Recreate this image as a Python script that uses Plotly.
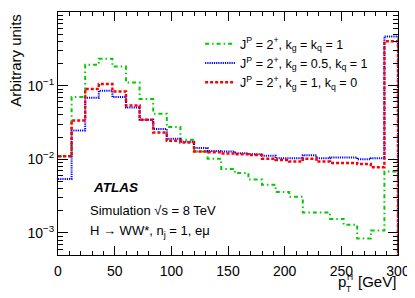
import plotly.graph_objects as go

bin_edges = [0, 12, 24, 36, 48, 60, 72, 84, 96, 108, 120, 132, 144, 156, 168,
             180, 192, 204, 216, 228, 240, 252, 264, 276, 288, 300]

green_vals = [0.011, 0.070, 0.192, 0.232, 0.182, 0.110, 0.0657, 0.0415, 0.0274, 0.0184,
              0.0128, 0.0102, 0.0074, 0.0065, 0.0053, 0.0045, 0.0036, 0.0031, 0.0019, 0.0019,
              0.00155, 0.00129, 0.00084, 0.00108, 0.0068]
blue_vals = [0.0054, 0.0246, 0.0685, 0.085, 0.070, 0.0506, 0.0344, 0.0257, 0.019, 0.0173,
             0.0142, 0.013, 0.0128, 0.0121, 0.0117, 0.0112, 0.0103, 0.0103, 0.0113, 0.0103,
             0.0106, 0.0106, 0.0100, 0.0103, 0.466]
red_vals = [0.011, 0.0337, 0.090, 0.105, 0.0835, 0.0538, 0.0344, 0.0231, 0.0178, 0.0169,
            0.0128, 0.0125, 0.012, 0.0117, 0.0114, 0.0102, 0.0098, 0.0093, 0.0102, 0.0093,
            0.0089, 0.0089, 0.0086, 0.0078, 0.40]

labels = ["J<sup>P</sup> = 2<sup>+</sup>, k<sub>g</sub> = k<sub>q</sub> = 1",
          "J<sup>P</sup> = 2<sup>+</sup>, k<sub>g</sub> = 0.5, k<sub>q</sub> = 1",
          "J<sup>P</sup> = 2<sup>+</sup>, k<sub>g</sub> = 1, k<sub>q</sub> = 0"]

y_log_range = [-3.3, 0]
floor = 10 ** (y_log_range[0] - 0.2)

styles = [dict(color="#00cc00", width=2, dash="4px,3px,1.5px,3px"),
          dict(color="#0000ff", width=2, dash="1.2px,1px"),
          dict(color="#ff0000", width=2.5, dash="3px,2px")]

fig = go.Figure()
for vals, lab, st in zip([green_vals, blue_vals, red_vals], labels, styles):
    xs = list(bin_edges) + [bin_edges[-1]]
    ys = list(vals) + [vals[-1], floor]
    fig.add_trace(go.Scatter(x=xs, y=ys, mode="lines", line_shape="hv",
                             line=st, name=lab, cliponaxis=True))

font = "Liberation Sans, Arial, Helvetica, sans-serif"
major_y = [1e-3, 1e-2, 1e-1, 1]
major_y_text = ["10<sup>\u22123</sup>", "10<sup>\u22122</sup>", "10<sup>\u22121</sup>", "1"]
minor_y = [m * 10.0 ** e for e in [-4, -3, -2, -1] for m in range(2, 10) if m * 10.0 ** e >= 10 ** y_log_range[0]]

# page body has an 8px margin, so the figure is 8px smaller and margins compensate
fig.update_layout(
    width=407, height=290,
    margin=dict(l=50, r=17, t=4, b=43, autoexpand=False),
    paper_bgcolor="white", plot_bgcolor="white",
    font=dict(family=font, color="black", size=14),
    showlegend=True,
    legend=dict(x=0.418, y=0.93, xanchor="left", yanchor="top",
                bgcolor="rgba(0,0,0,0)", font=dict(size=12.5), tracegroupgap=0,
                itemwidth=30),
    xaxis=dict(range=[0, 300], showgrid=False, zeroline=False, automargin=False,
               showline=True, linecolor="black", linewidth=1, mirror="ticks",
               ticks="inside", ticklen=9, tickcolor="black", ticklabelstandoff=3,
               tickvals=[0, 50, 100, 150, 200, 250, 300],
               minor=dict(ticks="inside", ticklen=4, dtick=10, tickcolor="black", showgrid=False)),
    yaxis=dict(type="log", range=y_log_range, showgrid=False, zeroline=False, automargin=False,
               showline=True, linecolor="black", linewidth=1, mirror="ticks",
               ticks="inside", ticklen=10, tickcolor="black",
               tickvals=major_y, ticktext=major_y_text,
               minor=dict(ticks="inside", ticklen=5, tickvals=minor_y, tickcolor="black", showgrid=False)),
)

ann = [
    dict(text="Arbitrary units", x=-0.126, y=1.0, xref="paper", yref="paper",
         textangle=-90, xanchor="center", yanchor="top", font=dict(size=15)),
    dict(text="<b><i>ATLAS</i></b>", x=0.098, y=0.276, xref="paper", yref="paper",
         xanchor="left", yanchor="middle", font=dict(size=13.5)),
    dict(text="Simulation \u221as = 8 TeV", x=0.087, y=0.185, xref="paper", yref="paper",
         xanchor="left", yanchor="middle", font=dict(size=13)),
    dict(text="H \u2192 WW*, n<sub>j</sub> = 1, e\u03bc", x=0.087, y=0.096, xref="paper", yref="paper",
         xanchor="left", yanchor="middle", font=dict(size=13)),
    dict(text="p", x=0.835, y=-0.107, xref="paper", yref="paper",
         xanchor="center", yanchor="middle", font=dict(size=15)),
    dict(text="H", x=0.858, y=-0.092, xref="paper", yref="paper",
         xanchor="center", yanchor="middle", font=dict(size=8.5)),
    dict(text="T", x=0.853, y=-0.138, xref="paper", yref="paper",
         xanchor="center", yanchor="middle", font=dict(size=8.5)),
    dict(text="[GeV]", x=1.0, y=-0.111, xref="paper", yref="paper",
         xanchor="right", yanchor="middle", font=dict(size=15)),
]
for a in ann:
    a["showarrow"] = False
    fig.add_annotation(**a)

fig.write_html("out.html")
